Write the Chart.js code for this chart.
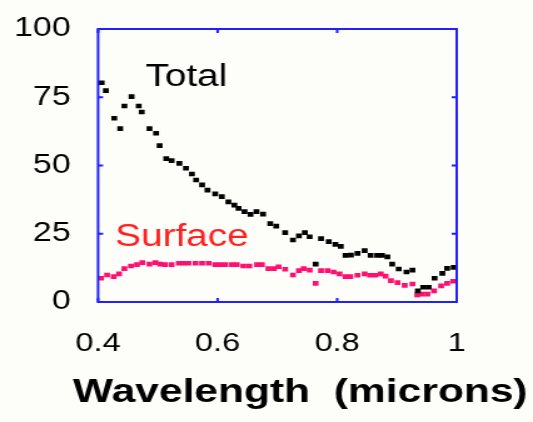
<!DOCTYPE html>
<html>
<head>
<meta charset="utf-8">
<script src="https://cdn.jsdelivr.net/npm/chart.js@4"></script>
<style>
  html, body { margin: 0; padding: 0; background: #fdfdf9; }
  /* the original picture is stretched sideways, so the canvas is too */
  #wrap { width: 426px; height: 422px; transform: scaleX(1.2512); transform-origin: 0 0; }
</style>
</head>
<body>
<div id="wrap"><canvas id="chart" width="426" height="422" style="width:426px;height:422px"></canvas></div>
<script>
// Dados
const totalX = [0.406, 0.413, 0.427, 0.437, 0.444, 0.456, 0.468, 0.473, 0.486, 0.497,
  0.503, 0.514, 0.523, 0.536, 0.547, 0.557, 0.564, 0.574, 0.583, 0.596,
  0.607, 0.618, 0.628, 0.635, 0.645, 0.655, 0.665, 0.676, 0.688, 0.698,
  0.713, 0.726, 0.736, 0.746, 0.754, 0.764, 0.773, 0.786, 0.797, 0.806,
  0.814, 0.823, 0.834, 0.846, 0.856, 0.867, 0.875, 0.884, 0.892, 0.903,
  0.916, 0.926, 0.935, 0.944, 0.953, 0.963, 0.976, 0.984, 0.995];
const totalY = [80.3, 77.4, 67.3, 63.5, 71.8, 75.2, 71.8, 69.6, 63.5, 61.8,
  57.3, 52.5, 51.8, 50.8, 49.0, 46.9, 44.7, 42.9, 41.0, 39.6,
  38.6, 36.7, 35.5, 34.3, 33.1, 32.1, 33.1, 32.2, 28.7, 27.8,
  25.4, 22.7, 24.2, 25.4, 23.9, 13.9, 23.2, 22.1, 21.1, 20.4,
  17.1, 17.2, 17.8, 18.8, 17.1, 17.1, 17.1, 16.5, 13.9, 12.1,
  11.0, 11.7, 4.1, 5.4, 5.4, 8.7, 10.5, 12.3, 12.7];

const surfaceX = [0.405, 0.415, 0.426, 0.435, 0.444, 0.455, 0.465, 0.474, 0.486, 0.496,
  0.504, 0.512, 0.523, 0.535, 0.543, 0.551, 0.563, 0.574, 0.585, 0.596,
  0.604, 0.613, 0.624, 0.632, 0.643, 0.653, 0.666, 0.674, 0.685, 0.694,
  0.702, 0.713, 0.726, 0.736, 0.744, 0.754, 0.764, 0.773, 0.784, 0.794,
  0.804, 0.814, 0.822, 0.834, 0.846, 0.855, 0.864, 0.873, 0.881, 0.890,
  0.901, 0.913, 0.926, 0.934, 0.942, 0.951, 0.962, 0.974, 0.984, 0.994];
const surfaceY = [8.7, 9.9, 9.3, 10.3, 12.2, 13.2, 13.7, 14.4, 13.9, 14.4,
  13.9, 13.7, 13.7, 14.2, 14.2, 14.2, 14.2, 14.2, 14.2, 13.7,
  13.7, 13.7, 13.7, 13.7, 13.2, 13.2, 13.7, 13.7, 12.2, 12.2,
  12.9, 12.0, 9.9, 11.5, 12.2, 11.7, 6.8, 11.5, 11.5, 11.0,
  10.3, 9.3, 9.3, 9.8, 10.3, 9.8, 9.8, 10.3, 9.5, 7.8,
  7.1, 6.1, 6.6, 2.6, 2.9, 2.9, 4.1, 5.9, 6.8, 7.6];

// Ticks
const xTickValues = [0.4, 0.6, 0.8, 1.0];
const xTickLabels = ['0.4', '0.6', '0.8', '1'];
const yTickValues = [0, 25, 50, 75, 100];
const yTickLabels = ['0', '25', '50', '75', '100'];

// Textos dentro do gráfico (posição em unidades de dados)
const seriesNames = ['Total', 'Surface'];
const nameX = [0.479, 0.4285];
const nameY = [82.4, 23.8];
const axisTitle = 'Wavelength  (microns)';

const FONT = "'Liberation Sans', Arial, sans-serif";
const BLUE = '#1f1fff';

function toPoints(xs, ys) {
  return xs.map((x, i) => ({ x: x, y: ys[i] }));
}

// Moldura azul com ticks para dentro + textos
const framePlugin = {
  id: 'frame',
  afterDraw(chart) {
    const ctx = chart.ctx;
    const a = chart.chartArea;
    const xs = chart.scales.x, ys = chart.scales.y;
    ctx.save();
    ctx.strokeStyle = BLUE;
    ctx.lineWidth = 2;
    ctx.strokeRect(a.left, a.top, a.right - a.left, a.bottom - a.top);
    ctx.beginPath();
    yTickValues.forEach(v => {
      const py = ys.getPixelForValue(v);
      ctx.moveTo(a.left, py); ctx.lineTo(a.left + 4, py);
      ctx.moveTo(a.right, py); ctx.lineTo(a.right - 4, py);
    });
    xTickValues.forEach(v => {
      const px = xs.getPixelForValue(v);
      ctx.moveTo(px, a.bottom); ctx.lineTo(px, a.bottom - 4);
      ctx.moveTo(px, a.top); ctx.lineTo(px, a.top + 4);
    });
    ctx.stroke();

    // nomes das séries
    ctx.textAlign = 'left';
    ctx.textBaseline = 'middle';
    ctx.font = '31px ' + FONT;
    const colors = ['#000000', '#ff2020'];
    seriesNames.forEach((name, i) => {
      ctx.fillStyle = colors[i];
      ctx.fillText(name, xs.getPixelForValue(nameX[i]), ys.getPixelForValue(nameY[i]));
    });

    // título do eixo x
    ctx.fillStyle = '#000';
    ctx.textAlign = 'center';
    ctx.font = 'bold 34px ' + FONT;
    ctx.fillText(axisTitle, 240, 393);
    ctx.restore();
  }
};

const config = {
  type: 'scatter',
  data: {
    datasets: [{
      label: seriesNames[0],
      data: toPoints(totalX, totalY),
      pointStyle: 'rect',
      pointRadius: 3.3,
      pointHoverRadius: 3.3,
      backgroundColor: '#000',
      borderWidth: 0
    }, {
      label: seriesNames[1],
      data: toPoints(surfaceX, surfaceY),
      pointStyle: 'rect',
      pointRadius: 3.3,
      pointHoverRadius: 3.3,
      backgroundColor: '#ff1070',
      borderWidth: 0
    }]
  },
  options: {
    responsive: false,
    animation: false,
    layout: { padding: { left: 0, top: 29, right: 61, bottom: 0 } },
    plugins: {
      legend: { display: false },
      tooltip: { enabled: false }
    },
    scales: {
      x: {
        type: 'linear',
        min: 0.4,
        max: 1.0,
        afterBuildTicks: s => { s.ticks = xTickValues.map(v => ({ value: v })); },
        afterFit: s => { s.height = 120; s.paddingLeft = 0; s.paddingRight = 0; },
        grid: { display: false, drawTicks: false },
        border: { display: false },
        ticks: {
          padding: 26,
          color: '#000',
          font: { family: FONT, size: 26 },
          maxRotation: 0,
          callback: (v, i) => xTickLabels[i]
        }
      },
      y: {
        min: 0,
        max: 100,
        afterBuildTicks: s => { s.ticks = yTickValues.map(v => ({ value: v })); },
        // o padding dos rótulos não deve empurrar a área do gráfico
        afterFit: s => { s.width = 78.4; s.paddingTop = 0; s.paddingBottom = 0; },
        grid: { display: false, drawTicks: false },
        border: { display: false },
        ticks: {
          padding: 22,
          color: '#000',
          font: { family: FONT, size: 27 },
          callback: (v, i) => yTickLabels[i]
        }
      }
    }
  },
  plugins: [framePlugin]
};

new Chart(document.getElementById('chart'), config);
</script>
</body>
</html>
